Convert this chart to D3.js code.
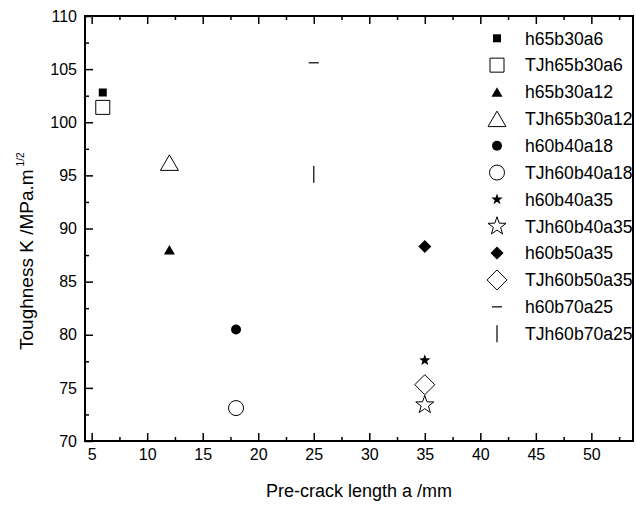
<!DOCTYPE html>
<html>
<head>
<meta charset="utf-8">
<script src="https://cdn.jsdelivr.net/npm/d3@7"></script>
<style>
  body { margin: 0; background: #fff; }
  text { font-family: "Liberation Sans", Arial, sans-serif; fill: #000; }
</style>
</head>
<body>
<div id="Chart"></div>
<script>
// data
var seriesNames = ["h65b30a6", "TJh65b30a6", "h65b30a12", "TJh65b30a12", "h60b40a18", "TJh60b40a18",
                   "h60b40a35", "TJh60b40a35", "h60b50a35", "TJh60b50a35", "h60b70a25", "TJh60b70a25"];
var crackLength = [6, 6, 12, 12, 18, 18, 35, 35, 35, 35, 25, 25];
var toughness   = [102.8, 101.4, 88.0, 96.2, 80.5, 73.1, 77.6, 73.4, 88.3, 75.3, 105.6, 95.1];
var xTicks      = [5, 10, 15, 20, 25, 30, 35, 40, 45, 50];
var xMinorTicks = [7.5, 12.5, 17.5, 22.5, 27.5, 32.5, 37.5, 42.5, 47.5, 52.5];
var yTicks      = [70, 75, 80, 85, 90, 95, 100, 105, 110];
var yMinorTicks = [72.5, 77.5, 82.5, 87.5, 92.5, 97.5, 102.5, 107.5];

// marker style per series: shape, size, filled
var markerShape = ["square", "square", "triangle", "triangle", "circle", "circle",
                   "star", "star", "diamond", "diamond", "dash", "bar"];
var markerSize  = [8, 14, 11, 18, 10, 15, 6, 9.5, 6.5, 10, 10, 17];
var markerFill  = [true, false, true, false, true, false, true, false, true, false, true, true];

// custom symbol types (size = characteristic length, not area)
var shapes = {
  square: { draw: function(c, s){ var h = s/2; c.rect(-h, -h, s, s); } },
  circle: { draw: function(c, s){ var r = s/2; c.moveTo(r, 0); c.arc(0, 0, r, 0, 2*Math.PI); } },
  triangle: { draw: function(c, s){ var h = s*0.86; c.moveTo(0, -h/2); c.lineTo(s/2, h/2); c.lineTo(-s/2, h/2); c.closePath(); } },
  diamond: { draw: function(c, s){ c.moveTo(0, -s); c.lineTo(s, 0); c.lineTo(0, s); c.lineTo(-s, 0); c.closePath(); } },
  star: { draw: function(c, s){
      var ri = s*0.4;
      for (var i = 0; i < 10; i++) {
        var r = i % 2 ? ri : s, a = -Math.PI/2 + i*Math.PI/5;
        if (i == 0) c.moveTo(r*Math.cos(a), r*Math.sin(a)); else c.lineTo(r*Math.cos(a), r*Math.sin(a));
      }
      c.closePath();
    } },
  dash: { draw: function(c, s){ c.moveTo(-s/2, 0); c.lineTo(s/2, 0); } },
  bar: { draw: function(c, s){ c.moveTo(0, -s/2); c.lineTo(0, s/2); } }
};

function styleMarker(sel){
  sel.attr("d", function(i){ return d3.symbol().type(shapes[markerShape[i]]).size(markerSize[i])(); })
     .attr("fill", function(i){ return (markerShape[i] == "dash" || markerShape[i] == "bar") ? "none" : (markerFill[i] ? "#000" : "#fff"); })
     .attr("stroke", function(i){
        if (markerShape[i] == "dash" || markerShape[i] == "bar") return "#333";
        return markerFill[i] ? "none" : "#000"; })
     .attr("stroke-width", function(i){ return (markerShape[i] == "dash" || markerShape[i] == "bar") ? 1.5 : 1; });
}

var margin = {top: 16, right: 3, bottom: 65, left: 85},
    width = 636 - margin.left - margin.right,
    height = 506 - margin.top - margin.bottom;

var svg = d3.select("#Chart").append("svg")
            .attr("width", 636)
            .attr("height", 506);
var g = svg.append("g").attr("transform", "translate(" + margin.left + "," + margin.top + ")");

var x = d3.scaleLinear().domain([4.4, 53.75]).range([0, width]);
var y = d3.scaleLinear().domain([70, 110]).range([height, 0]);

function tidy(ax, w){
  ax.select(".domain").remove();
  ax.selectAll(".tick line").attr("stroke", "#000").attr("stroke-width", w);
}

// bottom axis with labels
var xAxis = g.append("g").attr("transform", "translate(0," + height + ")")
  .call(d3.axisBottom(x).tickValues(xTicks).tickSizeInner(-8).tickSizeOuter(0).tickPadding(8));
tidy(xAxis, 1.5);
xAxis.selectAll("text").style("font-size", "16px").style("font-family", "Liberation Sans, Arial");
g.append("g").attr("transform", "translate(0," + height + ")")
  .call(d3.axisBottom(x).tickValues(xMinorTicks).tickSize(-4).tickFormat(""))
  .call(tidy, 1.5);
// top mirror
g.append("g").call(d3.axisTop(x).tickValues(xTicks).tickSize(-8).tickFormat("")).call(tidy, 1.5);
g.append("g").call(d3.axisTop(x).tickValues(xMinorTicks).tickSize(-4).tickFormat("")).call(tidy, 1.5);

// left axis with labels
var yAxis = g.append("g")
  .call(d3.axisLeft(y).tickValues(yTicks).tickSizeInner(-8).tickSizeOuter(0).tickPadding(8));
tidy(yAxis, 1.5);
yAxis.selectAll("text").style("font-size", "16px").style("font-family", "Liberation Sans, Arial");
g.append("g").call(d3.axisLeft(y).tickValues(yMinorTicks).tickSize(-4).tickFormat("")).call(tidy, 1.5);

// frame
g.append("rect").attr("width", width).attr("height", height)
  .attr("fill", "none").attr("stroke", "#000").attr("stroke-width", 2);

// data markers
g.selectAll("path.marker")
  .data(d3.range(seriesNames.length))
  .enter()
  .append("path")
  .attr("class", "marker")
  .attr("transform", function(i){ return "translate(" + x(crackLength[i]) + "," + y(toughness[i]) + ")"; })
  .call(styleMarker);

// legend
var legend = svg.append("g").attr("class", "legend");
var rowH = 26.85, legY = 38.3;
var rows = legend.selectAll("g.row")
  .data(d3.range(seriesNames.length))
  .enter()
  .append("g")
  .attr("class", "row")
  .attr("transform", function(i){ return "translate(0," + (legY + i*rowH) + ")"; });
rows.append("path").attr("transform", "translate(497,0)").call(styleMarker);
rows.append("text")
  .attr("x", 525)
  .attr("dy", "0.36em")
  .style("font-size", "17.6px")
  .text(function(i){ return seriesNames[i]; });

// axis titles
svg.append("text")
  .attr("x", margin.left + width/2)
  .attr("y", 497)
  .style("text-anchor", "middle")
  .style("font-size", "18px")
  .text("Pre-crack length a /mm");

var yTitle = svg.append("text")
  .attr("transform", "translate(33,350) rotate(-90)")
  .style("text-anchor", "start")
  .style("font-size", "19px");
yTitle.append("tspan").text("Toughness K /MPa.m");
yTitle.append("tspan").attr("dy", "-0.9em").attr("dx", "3").style("font-size", "10px").text("1/2");
</script>
</body>
</html>
